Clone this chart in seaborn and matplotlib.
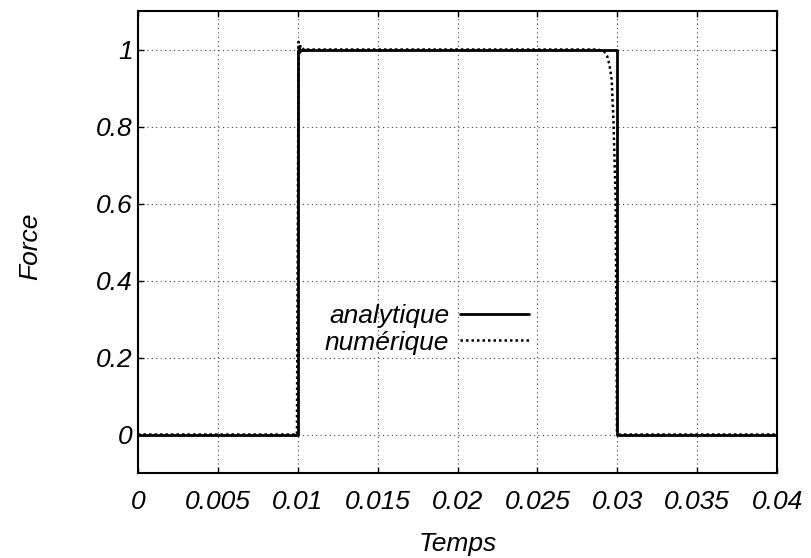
import matplotlib
matplotlib.use("Agg")
import matplotlib.pyplot as plt
import seaborn as sns
import pandas as pd
from matplotlib.ticker import FuncFormatter

# analytic step load
t_ana = [0.0, 0.01, 0.01, 0.03, 0.03, 0.04]
f_ana = [0.0, 0.0, 1.0, 1.0, 0.0, 0.0]

# numerical response
t_num = [0.0, 0.00995, 0.0100, 0.01005, 0.0101, 0.01015, 0.0102, 0.0103, 0.0104, 0.0106,
         0.0288, 0.02917, 0.02936, 0.02951, 0.02965, 0.02976, 0.0299, 0.02994, 0.02998, 0.0301, 0.04]
f_num = [0.0, 0.0, 0.5, 1.02, 0.99, 1.012, 0.995, 1.005, 0.998, 1.0,
         1.0, 0.995, 0.984, 0.961, 0.922, 0.818, 0.61, 0.35, 0.01, 0.0, 0.0]

x_ticks = [0, 0.005, 0.01, 0.015, 0.02, 0.025, 0.03, 0.035, 0.04]
y_ticks = [0, 0.2, 0.4, 0.6, 0.8, 1]

sns.set_style("ticks")
plt.rcParams['font.family'] = ['Liberation Sans', 'DejaVu Sans']
plt.rcParams['font.style'] = 'italic'
plt.rcParams['font.size'] = 19
plt.rcParams['text.color'] = 'black'
plt.rcParams['axes.labelcolor'] = 'black'
plt.rcParams['xtick.color'] = 'black'
plt.rcParams['ytick.color'] = 'black'
plt.rcParams['axes.edgecolor'] = 'black'

df_ana = pd.DataFrame({"Temps": t_ana, "Force": f_ana})
df_num = pd.DataFrame({"Temps": t_num, "Force": f_num})

fig, ax = plt.subplots(figsize=(8.11, 5.58), dpi=100)
fig.subplots_adjust(left=138/811, right=777/811, top=1-11/558, bottom=1-473/558)

sns.lineplot(data=df_ana, x="Temps", y="Force", ax=ax, color="black", lw=2,
             estimator=None, sort=False, label="analytique")
sns.lineplot(data=df_num, x="Temps", y="Force", ax=ax, color="black", lw=1.8,
             linestyle=(0, (1, 1.2)), estimator=None, sort=False, label="numérique")

ax.set_xlim(0, 0.04)
ax.set_ylim(-0.1, 1.1)
ax.set_xticks(x_ticks)
ax.set_yticks(y_ticks)
ax.xaxis.set_major_formatter(FuncFormatter(lambda v, p: "%g" % round(v, 4)))
ax.yaxis.set_major_formatter(FuncFormatter(lambda v, p: "%g" % round(v, 2)))
ax.grid(True, color="#444444", linestyle=(0, (1, 3)), lw=0.8)
ax.tick_params(direction="in", length=4, width=1.0, top=True, right=True)
ax.tick_params(axis="x", pad=12)
ax.tick_params(axis="y", pad=4)
for s in ax.spines.values():
    s.set_linewidth(1.5)
    s.set_visible(True)

ax.set_xlabel("Temps", labelpad=13)
ax.set_ylabel("Force")
ax.yaxis.set_label_coords(-0.15, 0.49)

leg = ax.legend(loc="center", bbox_to_anchor=(0.452, 0.311), frameon=False,
                markerfirst=False, handlelength=2.6, handletextpad=0.4,
                labelspacing=0.1, borderpad=0)
for t in leg.get_texts():
    t.set_ha("right")

fig.savefig("out.png", dpi=100)
